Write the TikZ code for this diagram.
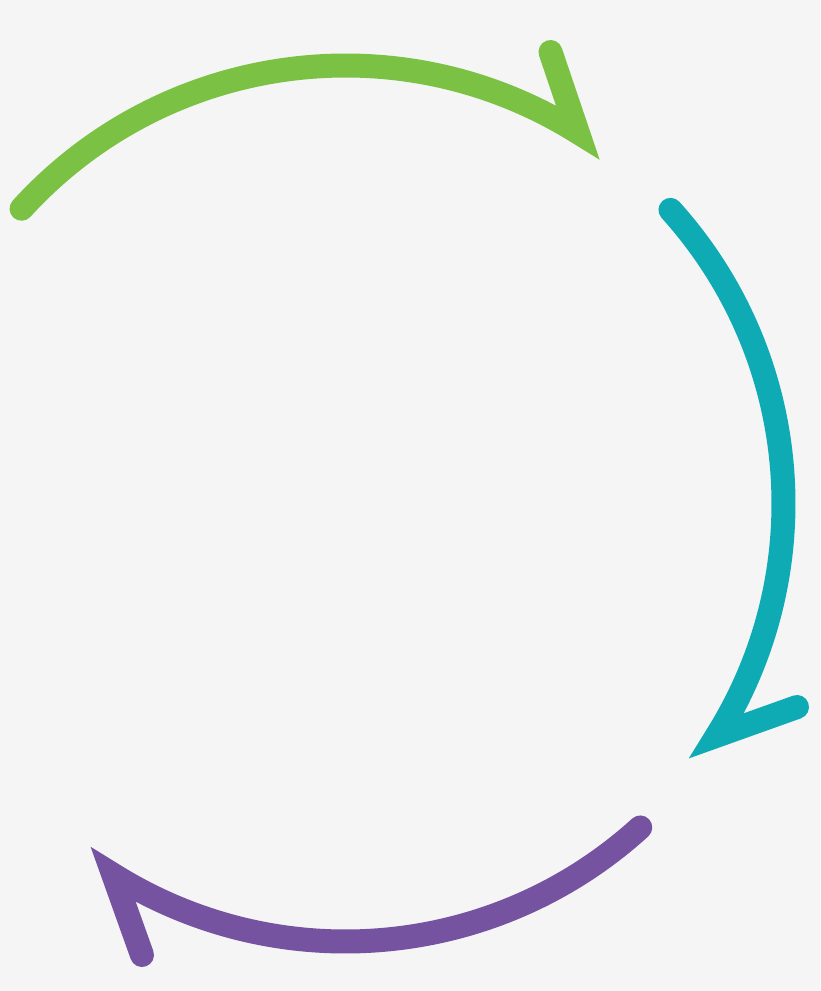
\documentclass[tikz,border=0pt]{standalone}
\definecolor{bgc}{HTML}{F5F5F5}
\definecolor{cgreen}{HTML}{7BC143}
\definecolor{cteal}{HTML}{0FABB5}
\definecolor{cpurple}{HTML}{7553A1}
\begin{document}
\begin{tikzpicture}[x=1pt,y=-1pt,
  cyclearrow/.style={line width=24pt,line cap=round,line join=miter,miter limit=10}]
\useasboundingbox (0,0) rectangle (820,991);
\fill[bgc] (0,0) rectangle (820,991);
\coordinate (O) at (345.5,503.5);
\coordinate (ga) at (550.5,52);
\coordinate (ta) at (797,707);
\coordinate (pa) at (142,955);
% green
\draw[cyclearrow,cgreen] ([shift={(222.3:438)}]O) arc[start angle=222.3,end angle=302,radius=438] -- (ga);
% teal
\draw[cyclearrow,cteal] ([shift={(-42.1:438)}]O) arc[start angle=-42.1,end angle=32,radius=438] -- (ta);
% purple
\draw[cyclearrow,cpurple] ([shift={(47.7:438)}]O) arc[start angle=47.7,end angle=122,radius=438] -- (pa);
\end{tikzpicture}
\end{document}
